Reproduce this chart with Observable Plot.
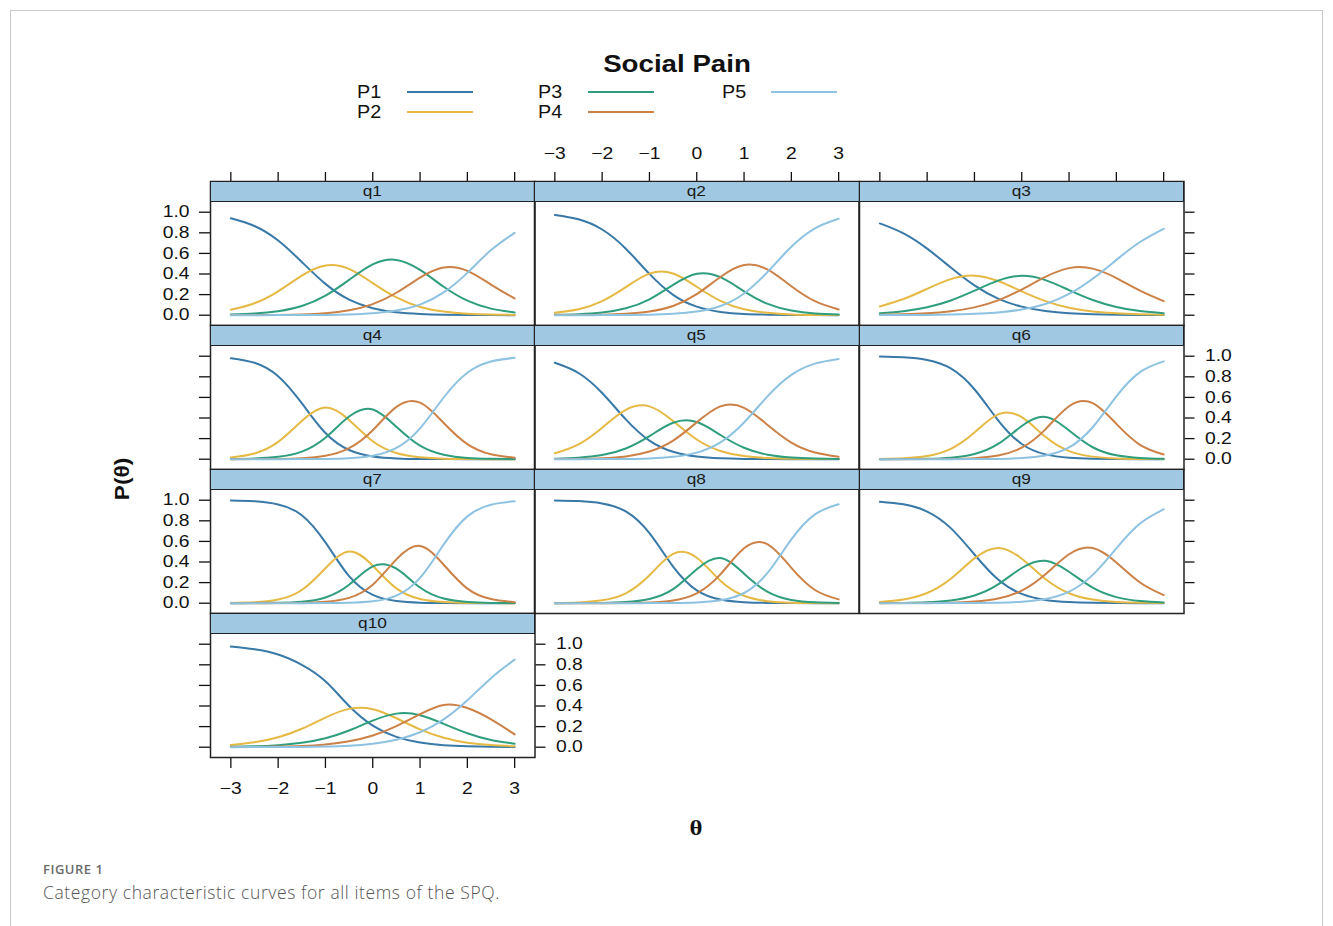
<!DOCTYPE html>
<html>
<head>
<meta charset="utf-8">
<script src="https://cdn.jsdelivr.net/npm/d3@7"></script>
<script src="https://cdn.jsdelivr.net/npm/@observablehq/plot@0.6"></script>
<style>
html, body { margin: 0; padding: 0; background: #fff; overflow: hidden; }
#root { position: relative; width: 1333px; height: 926px; background: #fff; overflow: hidden; }
.frame-box { position: absolute; left: 10px; top: 10px; width: 1311px; height: 1000px; border: 1px solid #c9c9c9; }
.strip { position: absolute; box-sizing: border-box; background: #a0c8e2; border: 1.5px solid #222;
  font: 15px "Liberation Sans", Arial, sans-serif; color: #1a1a1a; text-align: center; }
.strip span { display: inline-block; transform: scaleX(1.15); }
.cap1 { position: absolute; left: 43px; top: 860px; font: 600 13px "Open Sans", sans-serif; color: #6b6b6b; letter-spacing: 0.5px; }
.cap2 { position: absolute; left: 43px; top: 880px; font: 300 17.5px "Open Sans", sans-serif; color: #555; letter-spacing: 0.6px; }
</style>
</head>
<body>
<div id="root"><div class="frame-box"></div></div>
<script>
// ---------- data ----------
const title = "Social Pain";
const thetas = [-3, -2.5, -2, -1.5, -1, -0.5, 0, 0.5, 1, 1.5, 2, 2.5, 3];
const categories = ["P1", "P2", "P3", "P4", "P5"];
const colors = ["#3979a8", "#e5b944", "#2f9e7e", "#cc8147", "#8dc2e0"];
const items = ["q1", "q2", "q3", "q4", "q5", "q6", "q7", "q8", "q9", "q10"];
const xTicks = [-3, -2, -1, 0, 1, 2, 3];
const yTicks = [0, 0.2, 0.4, 0.6, 0.8, 1.0];

// probabilities per item: rows P1..P5, columns = thetas
const q1 = [
  [.941,.866,.725,.517,.304,.151,.068,.028,.012,.005,.002,.001,.000],
  [.052,.116,.232,.384,.483,.450,.312,.172,.080,.035,.015,.006,.003],
  [.006,.016,.039,.089,.190,.343,.493,.537,.440,.276,.141,.064,.027],
  [.001,.001,.003,.008,.020,.048,.108,.218,.365,.463,.431,.297,.162],
  [.000,.000,.001,.001,.003,.008,.019,.045,.103,.221,.411,.632,.800]];
const q2 = [
  [.973,.931,.832,.646,.401,.198,.083,.032,.012,.005,.002,.001,.000],
  [.023,.057,.136,.272,.404,.405,.276,.139,.058,.023,.008,.003,.001],
  [.004,.010,.026,.067,.154,.294,.402,.369,.232,.110,.045,.017,.007],
  [.001,.002,.005,.014,.036,.090,.204,.371,.487,.442,.281,.136,.056],
  [.000,.000,.001,.002,.005,.013,.035,.089,.211,.421,.664,.843,.936]];
const q3 = [
  [.891,.794,.646,.463,.289,.161,.083,.041,.020,.010,.005,.002,.001],
  [.085,.157,.256,.350,.384,.332,.231,.137,.073,.037,.018,.009,.004],
  [.019,.039,.077,.143,.238,.336,.382,.341,.244,.148,.080,.040,.020],
  [.004,.009,.018,.038,.076,.144,.249,.372,.457,.452,.361,.238,.136],
  [.001,.001,.003,.006,.013,.027,.055,.109,.206,.354,.537,.711,.839]];
const q4 = [
  [.981,.936,.806,.544,.254,.089,.027,.008,.002,.001,.000,.000,.000],
  [.017,.056,.168,.371,.501,.380,.175,.060,.018,.005,.002,.000,.000],
  [.002,.007,.023,.074,.209,.414,.483,.315,.131,.043,.012,.004,.001],
  [.000,.001,.003,.010,.033,.107,.281,.508,.549,.352,.147,.048,.015],
  [.000,.000,.000,.001,.003,.010,.034,.109,.300,.599,.839,.948,.984]];
const q5 = [
  [.936,.837,.643,.387,.181,.072,.026,.009,.003,.001,.000,.000,.000],
  [.057,.144,.306,.479,.513,.371,.191,.080,.030,.011,.004,.002,.001],
  [.005,.015,.040,.104,.224,.354,.361,.235,.111,.043,.016,.006,.002],
  [.001,.003,.010,.027,.074,.180,.358,.513,.499,.332,.161,.065,.024],
  [.000,.000,.001,.003,.008,.023,.064,.163,.357,.613,.819,.928,.974]];
const q6 = [
  [.997,.989,.963,.881,.679,.378,.148,.047,.014,.004,.001,.000,.000],
  [.003,.010,.032,.101,.259,.436,.408,.217,.079,.025,.008,.003,.001],
  [.000,.001,.004,.015,.051,.148,.322,.410,.279,.116,.038,.012,.004],
  [.000,.000,.001,.003,.010,.035,.112,.290,.514,.545,.343,.140,.046],
  [.000,.000,.000,.000,.001,.003,.011,.036,.114,.310,.611,.846,.950]];
const q7 = [
  [.997,.990,.959,.854,.590,.262,.080,.021,.005,.001,.000,.000,.000],
  [.003,.009,.036,.128,.339,.502,.364,.144,.041,.011,.003,.001,.000],
  [.000,.001,.004,.014,.056,.179,.358,.335,.152,.045,.012,.003,.001],
  [.000,.000,.001,.003,.014,.052,.179,.426,.556,.373,.142,.040,.010],
  [.000,.000,.000,.000,.001,.005,.019,.074,.246,.570,.843,.956,.989]];
const q8 = [
  [.998,.992,.969,.891,.680,.356,.125,.036,.010,.003,.001,.000,.000],
  [.002,.007,.028,.096,.271,.479,.442,.218,.072,.020,.005,.001,.000],
  [.000,.001,.003,.011,.041,.136,.330,.438,.287,.109,.032,.009,.003],
  [.000,.000,.000,.002,.007,.027,.096,.280,.533,.572,.343,.128,.037],
  [.000,.000,.000,.000,.001,.002,.007,.028,.099,.297,.619,.862,.960]];
const q9 = [
  [.986,.960,.890,.729,.473,.230,.090,.032,.011,.004,.001,.000,.000],
  [.012,.036,.099,.238,.435,.537,.432,.235,.097,.035,.012,.005,.002],
  [.001,.003,.009,.027,.075,.183,.342,.412,.305,.151,.059,.021,.007],
  [.000,.001,.002,.005,.016,.045,.122,.281,.475,.535,.395,.201,.079],
  [.000,.000,.000,.001,.002,.005,.014,.040,.112,.275,.533,.774,.912]];
const q10 = [
  [.977,.950,.900,.800,.640,.400,.210,.100,.045,.020,.010,.005,.002],
  [.021,.047,.096,.179,.288,.372,.369,.281,.173,.092,.044,.021,.010],
  [.004,.009,.020,.043,.087,.162,.258,.326,.311,.227,.136,.070,.034],
  [.001,.003,.006,.012,.027,.057,.113,.205,.320,.410,.380,.270,.125],
  [.000,.001,.001,.003,.007,.015,.034,.072,.145,.270,.455,.670,.850]];
const itemValues = [q1, q2, q3, q4, q5, q6, q7, q8, q9, q10];

// which axes each panel shows: 1 = ticks + labels, 0 = ticks only
const axesSpec = {
  q1: {top: 0, left: 1}, q2: {top: 1}, q3: {top: 0, right: 0},
  q4: {left: 0}, q5: {}, q6: {right: 1},
  q7: {left: 1}, q8: {}, q9: {right: 0},
  q10: {left: 0, right: 1, bottom: 1}
};

// ---------- layout ----------
const colX = [209.5, 534, 858.5];
const rowY = [181, 325, 469, 613];
const panelW = 324.5, stripH = 20, panelH = 124;
const ml = 60, mr = 60, mt = 50, mb = 50;
const FONT = "Liberation Sans, Arial, Helvetica, sans-serif";
const root = document.getElementById("root");

const fmtX = d => d < 0 ? "\u2212" + (-d) : String(d);
const fmtY = d => d.toFixed(1);
const blank = () => "";

// widen glyphs horizontally (the reference text is drawn wide)
function widen(node, k) {
  node.querySelectorAll("text").forEach(t => {
    const L = t.getComputedTextLength();
    if (L > 0) { t.setAttribute("textLength", (L * k).toFixed(2)); t.setAttribute("lengthAdjust", "spacingAndGlyphs"); }
  });
}

items.forEach((name, i) => {
  const row = Math.floor(i / 3), col = i % 3;
  const vals = itemValues[i];
  const rows = [];
  categories.forEach((c, k) => thetas.forEach((t, j) => rows.push({theta: t, p: vals[k][j], cat: c})));
  const spec = axesSpec[name];
  const marks = [
    Plot.line(rows, {x: "theta", y: "p", z: "cat", stroke: "cat", curve: "natural", strokeWidth: 2})
  ];
  if (spec.top !== undefined)
    marks.push(Plot.axisX(xTicks, {anchor: "top", tickSize: 10, tickPadding: 13, tickFormat: spec.top ? fmtX : blank, label: null, strokeWidth: 1.3}));
  if (spec.bottom !== undefined)
    marks.push(Plot.axisX(xTicks, {anchor: "bottom", tickSize: 11, tickPadding: 14, tickFormat: spec.bottom ? fmtX : blank, label: null, strokeWidth: 1.3}));
  if (spec.left !== undefined)
    marks.push(Plot.axisY(yTicks, {anchor: "left", tickSize: 11, tickPadding: 10, tickFormat: spec.left ? fmtY : blank, label: null, strokeWidth: 1.3}));
  if (spec.right !== undefined)
    marks.push(Plot.axisY(yTicks, {anchor: "right", tickSize: 10, tickPadding: 11, tickFormat: spec.right ? fmtY : blank, label: null, strokeWidth: 1.3}));
  marks.push(Plot.frame({stroke: "#222", strokeWidth: 1.5}));

  const svg = Plot.plot({
    width: panelW + ml + mr,
    height: stripH + panelH + mt + mb,
    marginLeft: ml, marginRight: mr, marginTop: mt, marginBottom: mb,
    x: {domain: [-3.43, 3.43], axis: null},
    y: {domain: [-0.1, 1.104], range: [mt + stripH + panelH, mt + stripH], axis: null},
    color: {domain: categories, range: colors},
    style: {background: "transparent", overflow: "visible", fontFamily: FONT, fontSize: "16.5px", color: "#111", maxWidth: "none"},
    marks
  });
  svg.style.position = "absolute";
  svg.style.left = (colX[col] - ml) + "px";
  svg.style.top = (rowY[row] - mt) + "px";
  root.appendChild(svg);
  widen(svg, 1.17);

  const strip = document.createElement("div");
  strip.className = "strip";
  strip.style.left = colX[col] + "px";
  strip.style.top = rowY[row] + "px";
  strip.style.width = (panelW + 1) + "px";
  strip.style.height = (stripH + 1) + "px";
  strip.style.lineHeight = (stripH - 3) + "px";
  const span = document.createElement("span");
  span.textContent = name;
  strip.appendChild(span);
  root.appendChild(strip);
});

// ---------- title, legend, axis titles ----------
const overlay = d3.select(root).append("svg")
  .attr("width", 1333).attr("height", 926)
  .style("position", "absolute").style("left", 0).style("top", 0).style("overflow", "visible");

overlay.append("text")
  .attr("x", 677).attr("y", 72).attr("text-anchor", "middle")
  .attr("font-family", FONT).attr("font-weight", "bold").attr("font-size", 24.5)
  .attr("fill", "#111").text(title);

const legendTextX = [357, 538, 722], legendLineX = [407, 588, 771], legendRowY = [92, 112];
categories.forEach((c, i) => {
  const col = Math.floor(i / 2), row = i % 2;
  overlay.append("text")
    .attr("x", legendTextX[col]).attr("y", legendRowY[row]).attr("dy", "0.36em")
    .attr("font-family", FONT).attr("font-size", 17.5).attr("fill", "#111").text(c);
  overlay.append("line")
    .attr("x1", legendLineX[col]).attr("x2", legendLineX[col] + 66)
    .attr("y1", legendRowY[row]).attr("y2", legendRowY[row])
    .attr("stroke", colors[i]).attr("stroke-width", 2);
});

overlay.append("text")
  .attr("transform", "translate(122,479) rotate(-90)").attr("text-anchor", "middle").attr("dy", "0.36em")
  .attr("font-family", FONT).attr("font-weight", "bold").attr("font-size", 20)
  .attr("fill", "#111").text("P(\u03b8)");

overlay.append("text")
  .attr("x", 696).attr("y", 828).attr("text-anchor", "middle").attr("dy", "0.33em")
  .attr("font-family", "Liberation Serif, serif").attr("font-weight", "bold").attr("font-size", 22)
  .attr("fill", "#111").text("\u03b8");

widen(overlay.node(), 1.13);

// ---------- caption ----------
const c1 = document.createElement("div"); c1.className = "cap1"; c1.textContent = "FIGURE 1"; root.appendChild(c1);
const c2 = document.createElement("div"); c2.className = "cap2"; c2.textContent = "Category characteristic curves for all items of the SPQ."; root.appendChild(c2);
</script>
</body>
</html>
